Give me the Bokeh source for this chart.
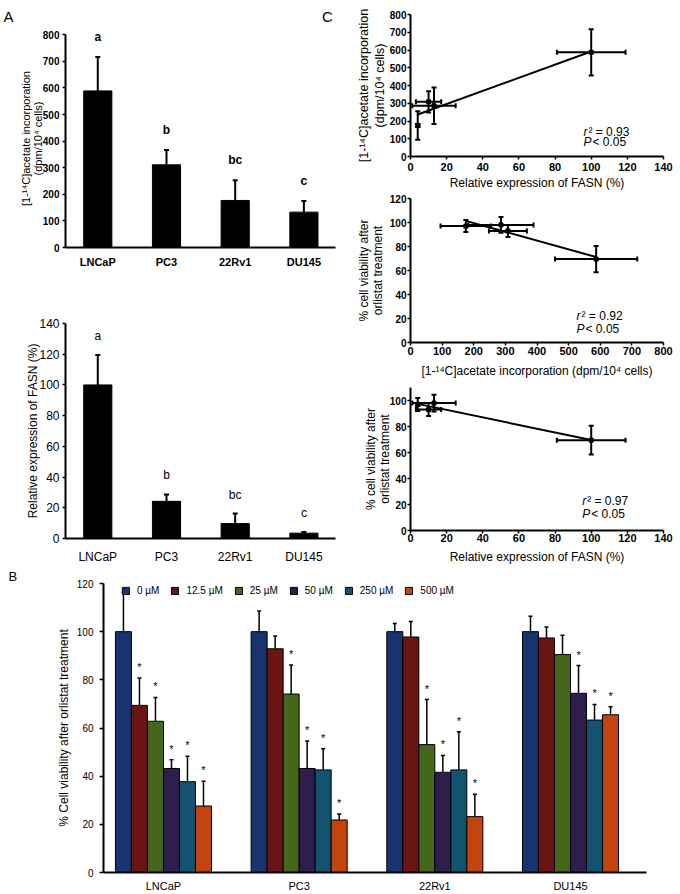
import numpy as np
from bokeh.plotting import figure
from bokeh.models import (ColumnDataSource, Whisker, TeeHead, Label, Legend, LegendItem,
                          FixedTicker, Range1d, Title)
from bokeh.layouts import column, row
from bokeh.embed import file_html
from bokeh.resources import INLINE
from bokeh.core.properties import value

FONT = "Liberation Sans"

# ---------------- data ----------------
cells = ["LNCaP", "PC3", "22Rv1", "DU145"]

# Panel A (top): acetate incorporation
acetate_mean = [589, 311, 177, 133]
acetate_err = [128, 56, 76, 42]
acetate_letters = ["a", "b", "bc", "c"]

# Panel A (bottom): FASN expression
fasn_mean = [100, 24.2, 9.7, 3.5]
fasn_err = [19.5, 4.5, 6.5, 0.8]
fasn_letters = ["a", "b", "bc", "c"]

# Panel B: viability after orlistat
doses = ["0 \u00b5M", "12.5 \u00b5M", "25 \u00b5M", "50 \u00b5M", "250 \u00b5M", "500 \u00b5M"]
dose_colors = ["#17346f", "#6b1414", "#46661c", "#2d1e4d", "#13536f", "#c2440e"]
via_lncap = [100, 69.4, 62.8, 43.2, 37.7, 27.6]
via_pc3 = [100, 92.9, 74.1, 43.2, 42.6, 21.8]
via_22rv1 = [100, 97.8, 53.1, 41.6, 42.6, 23.2]
via_du145 = [100, 97.4, 90.5, 74.4, 63.3, 65.5]
err_lncap = [16.4, 11.4, 9.9, 3.6, 10.6, 10.3]
err_pc3 = [8.6, 5.3, 12.1, 11.4, 8.8, 2.5]
err_22rv1 = [3.4, 6.4, 18.7, 7.0, 15.8, 9.3]
err_du145 = [6.4, 4.5, 8.0, 11.5, 6.5, 3.3]
sig_lncap = [0, 1, 1, 1, 1, 1]
sig_pc3 = [0, 0, 1, 1, 1, 1]
sig_22rv1 = [0, 0, 1, 1, 1, 1]
sig_du145 = [0, 0, 0, 1, 1, 1]

# Panel C: correlations
c_fasn = [100, 10, 13, 4]
c_fasn_err = [19, 7, 12, 1]
c_acetate = [587, 308, 286, 175]
c_acetate_err = [130, 60, 103, 80]
c_viab = [69.5, 93, 98, 97]
c_viab_err = [11, 5, 6.5, 5]
c_r2 = ["0.93", "0.92", "0.97"]

ACET_LABEL = "[1-\u00b9\u2074C]acetate incorporation (dpm/10\u2074 cells)"
ACET_LABEL2 = "[1-\u00b9\u2074C]acetate incorporation\n(dpm/10\u2074 cells)"
FASN_LABEL = "Relative expression of FASN (%)"
VIAB_LABEL2 = "% cell viability after\norlistat treatment"


def base_fig(w, h, xr, yr, bl, br, bt, bb):
    p = figure(width=w, height=h, x_range=Range1d(*xr), y_range=Range1d(*yr),
               output_backend="svg", toolbar_location=None,
               min_border_left=bl, min_border_right=br,
               min_border_top=bt, min_border_bottom=bb)
    p.outline_line_color = None
    p.grid.visible = False
    p.background_fill_color = "white"
    p.border_fill_color = "white"
    for ax in p.axis:
        ax.axis_line_width = 2
        ax.axis_line_color = "black"
        ax.major_tick_line_width = 1.5
        ax.major_tick_line_color = "black"
        ax.major_tick_in = 0
        ax.major_tick_out = 3
        ax.minor_tick_line_color = None
        ax.major_label_text_font = FONT
        ax.major_label_text_color = "black"
        ax.axis_label_text_font = FONT
        ax.axis_label_text_font_style = "normal"
        ax.axis_label_text_color = "black"
    return p


def cat_axis(p, size, style, standoff):
    ax = p.xaxis[0]
    ax.ticker = FixedTicker(ticks=[1, 2, 3, 4])
    ax.major_label_overrides = {i + 1: c for i, c in enumerate(cells)}
    ax.major_tick_out = 0
    ax.major_label_text_font_size = size
    ax.major_label_text_font_style = style
    ax.major_label_standoff = standoff


def panel_title(p, txt, offset, size, valign, standoff):
    p.add_layout(Title(text=txt, align="left", offset=offset, standoff=standoff,
                       vertical_align=valign, text_font=FONT, text_font_size=size,
                       text_font_style="normal", text_color="black"), "above")


# ---------------- Panel A top ----------------
XR_A = (0.53, 4.46)
pA1 = base_fig(345, 290, XR_A, (0, 820), 65, 10, 29, 43)
srcA1 = ColumnDataSource(dict(x=[1, 2, 3, 4], top=acetate_mean,
                              upper=[m + e for m, e in zip(acetate_mean, acetate_err)],
                              lab=acetate_letters))
pA1.vbar(x="x", top="top", width=0.41, source=srcA1, fill_color="black", line_color="black")
pA1.add_layout(Whisker(base="x", lower="top", upper="upper", source=srcA1, dimension="height",
                       line_width=2, lower_head=None,
                       upper_head=TeeHead(size=5, line_width=2)))
pA1.text(x="x", y="upper", text="lab", source=srcA1, y_offset=-20, text_align="center",
         text_baseline="middle", text_font=value(FONT), text_font_size="12px",
         text_font_style="bold")
cat_axis(pA1, "11px", "bold", 8)
pA1.yaxis.ticker = FixedTicker(ticks=list(range(0, 801, 100)))
pA1.yaxis.bounds = (0, 800)
pA1.yaxis.major_label_text_font_size = "10px"
pA1.yaxis.major_label_text_font_style = "bold"
pA1.yaxis.major_label_standoff = 3
pA1.yaxis.axis_label = ACET_LABEL2
pA1.yaxis.axis_label_text_font_size = "11px"
pA1.yaxis.axis_label_text_line_height = 0.95
pA1.yaxis.axis_label_standoff = -4
# panel letters "A" (left column) and "C" (right column) share the top strip
panel_title(pA1, "A" + "\u00a0" * 74 + "C", -62, "15px", "bottom", 10)

# ---------------- Panel A bottom ----------------
pA2 = base_fig(345, 276, XR_A, (0, 140), 65, 10, 33, 27)
srcA2 = ColumnDataSource(dict(x=[1, 2, 3, 4], top=fasn_mean,
                              upper=[m + e for m, e in zip(fasn_mean, fasn_err)],
                              lab=fasn_letters))
pA2.vbar(x="x", top="top", width=0.41, source=srcA2, fill_color="black", line_color="black")
pA2.add_layout(Whisker(base="x", lower="top", upper="upper", source=srcA2, dimension="height",
                       line_width=2, lower_head=None,
                       upper_head=TeeHead(size=5, line_width=2)))
pA2.text(x="x", y="upper", text="lab", source=srcA2, y_offset=-19, text_align="center",
         text_baseline="middle", text_font=value(FONT), text_font_size="12px")
cat_axis(pA2, "12px", "normal", 11)
pA2.yaxis.ticker = FixedTicker(ticks=list(range(0, 141, 20)))
pA2.yaxis.major_label_text_font_size = "12px"
pA2.yaxis.major_label_standoff = 3
pA2.yaxis.axis_label = FASN_LABEL
pA2.yaxis.axis_label_text_font_size = "12px"
pA2.yaxis.axis_label_standoff = -4

# ---------------- Panel C ----------------
def corr_panel(h, bt, bb, x, xe, y, ye, xr, yr, xticks, yticks, xlabel, ylabel, r2, txy,
               ylab_size, ylab_lh, ylab_standoff, xtick_standoff, xlab_standoff, ybounds=None):
    p = base_fig(335, h, xr, yr, 65, 17, bt, bb)
    x = np.array(x, float); xe = np.array(xe, float)
    y = np.array(y, float); ye = np.array(ye, float)
    src = ColumnDataSource(dict(x=x, y=y, xl=x - xe, xu=x + xe, yl=y - ye, yu=y + ye))
    k, b = np.polyfit(x, y, 1)
    xs = np.array([x.min(), x.max()])
    p.line(xs, k * xs + b, line_color="black", line_width=2)
    p.add_layout(Whisker(base="x", lower="yl", upper="yu", source=src, dimension="height",
                         line_width=2, upper_head=TeeHead(size=5, line_width=2),
                         lower_head=TeeHead(size=5, line_width=2)))
    p.add_layout(Whisker(base="y", lower="xl", upper="xu", source=src, dimension="width",
                         line_width=2, upper_head=TeeHead(size=5, line_width=2),
                         lower_head=TeeHead(size=5, line_width=2)))
    p.scatter("x", "y", source=src, marker="square", size=4, color="black")
    p.xaxis.ticker = FixedTicker(ticks=xticks)
    p.yaxis.ticker = FixedTicker(ticks=yticks)
    if ybounds:
        p.yaxis.bounds = ybounds
    p.yaxis.major_label_text_font_size = "10px"
    p.xaxis.major_label_text_font_size = "11px"
    for ax in p.axis:
        ax.major_label_text_font_style = "bold"
    p.yaxis.major_label_standoff = 1
    p.xaxis.major_label_standoff = xtick_standoff
    p.xaxis.axis_label = xlabel
    p.yaxis.axis_label = ylabel
    p.xaxis.axis_label_text_font_size = "12px"
    p.yaxis.axis_label_text_font_size = ylab_size
    p.yaxis.axis_label_text_line_height = ylab_lh
    p.yaxis.axis_label_standoff = ylab_standoff
    p.xaxis.axis_label_standoff = xlab_standoff
    tx, ty1, ty2 = txy
    common = dict(text_font=FONT, text_font_size="12px", text_baseline="middle",
                  text_color="black")
    p.add_layout(Label(x=tx, y=ty1, text="r", text_font_style="italic", **common))
    p.add_layout(Label(x=tx, y=ty1, x_offset=5, text="\u00b2 = " + r2, **common))
    p.add_layout(Label(x=tx, y=ty2, text="P", text_font_style="italic", **common))
    p.add_layout(Label(x=tx, y=ty2, x_offset=9, text="< 0.05", **common))
    return p


pC1 = corr_panel(192, 14, 34, c_fasn, c_fasn_err, c_acetate, c_acetate_err,
                 (0, 140), (0, 800), list(range(0, 141, 20)), list(range(0, 801, 100)),
                 FASN_LABEL, ACET_LABEL2, c_r2[0], (95.7, 139, 83),
                 "12.5px", 1.15, 0, 3, 2)

pC2 = corr_panel(188, 6, 36, c_acetate, c_acetate_err, c_viab, c_viab_err,
                 (0, 800), (0, 120), list(range(0, 801, 100)), list(range(0, 121, 20)),
                 ACET_LABEL, VIAB_LABEL2, c_r2[1], (525, 22, 11.4),
                 "12px", 1.0, 2, 1, 6)

pC3 = corr_panel(186, 7, 34, c_fasn, c_fasn_err, c_viab, c_viab_err,
                 (0, 140), (0, 110), list(range(0, 141, 20)), list(range(0, 101, 20)),
                 FASN_LABEL, VIAB_LABEL2, c_r2[2], (95, 22.7, 12.9),
                 "12px", 1.0, -5, 0, 5, ybounds=(0, 110))

# ---------------- Panel B ----------------
XR_B = (0.558, 4.56)
FRAME_B_H = 291
pB = base_fig(680, 328, XR_B, (0, 120), 103, 34, 16, 21)
vals = [via_lncap, via_pc3, via_22rv1, via_du145]
errs = [err_lncap, err_pc3, err_22rv1, err_du145]
sigs = [sig_lncap, sig_pc3, sig_22rv1, sig_du145]
BW = 0.118
items = []
sx, sy = [], []
for j, (dose, col) in enumerate(zip(doses, dose_colors)):
    xs = [i + 1 + (j - 2.5) * BW for i in range(4)]
    tops = [v[j] for v in vals]
    ups = [v[j] + e[j] for v, e in zip(vals, errs)]
    src = ColumnDataSource(dict(x=xs, top=tops, upper=ups))
    r = pB.vbar(x="x", top="top", width=BW, source=src, fill_color=col,
                line_color="black", line_width=1)
    pB.add_layout(Whisker(base="x", lower="top", upper="upper", source=src,
                          dimension="height", line_width=1.5, lower_head=None,
                          upper_head=TeeHead(size=4, line_width=1.5)))
    items.append(LegendItem(label=dose, renderers=[r]))
    for i in range(4):
        if sigs[i][j]:
            sx.append(xs[i]); sy.append(ups[i])
star_src = ColumnDataSource(dict(x=sx, y=sy, t=["*"] * len(sx)))
pB.text(x="x", y="y", text="t", source=star_src, y_offset=-11, text_align="center",
        text_baseline="middle", text_font=value(FONT), text_font_size="11px")
cat_axis(pB, "11px", "normal", 7)
pB.yaxis.ticker = FixedTicker(ticks=list(range(0, 121, 20)))
pB.yaxis.major_label_text_font_size = "10px"
pB.yaxis.major_tick_out = 4
pB.yaxis.major_label_standoff = 6
pB.yaxis.axis_label = "% Cell viability after orlistat treatment"
pB.yaxis.axis_label_text_font_size = "12px"
pB.yaxis.axis_label_standoff = 3
legend = Legend(items=items, orientation="horizontal", location=(18, FRAME_B_H - 15),
                glyph_width=9, glyph_height=9, label_height=9, padding=0, spacing=11,
                label_standoff=7, label_text_font=FONT, label_text_font_size="10px",
                label_text_color="black",
                border_line_color=None, background_fill_alpha=0, margin=0)
pB.add_layout(legend)
panel_title(pB, "B", -95, "13px", "bottom", 0)

layout = column(row(column(pA1, pA2), column(pC1, pC2, pC3)), pB)
open("out.html", "w").write(file_html(layout, INLINE))
